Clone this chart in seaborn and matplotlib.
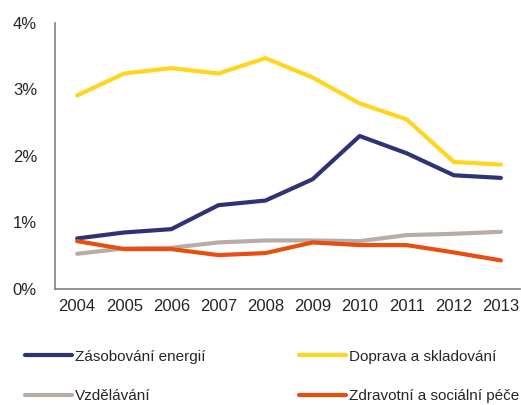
import numpy as np
import pandas as pd
import matplotlib
matplotlib.use('Agg')
import matplotlib.pyplot as plt
import seaborn as sns

years = [2004, 2005, 2006, 2007, 2008, 2009, 2010, 2011, 2012, 2013]
energie = [0.76, 0.85, 0.90, 1.26, 1.33, 1.65, 2.30, 2.04, 1.71, 1.67]
doprava = [2.91, 3.24, 3.32, 3.24, 3.47, 3.18, 2.79, 2.55, 1.91, 1.87]
vzdelavani = [0.53, 0.61, 0.62, 0.70, 0.73, 0.73, 0.72, 0.81, 0.83, 0.86]
zdravotni = [0.72, 0.60, 0.60, 0.51, 0.54, 0.70, 0.66, 0.66, 0.55, 0.43]

labels = ['Zásobování energií', 'Doprava a skladování',
          'Vzdělávání', 'Zdravotní a sociální péče']
colors = ['#2E3375', '#FFD51E', '#B8ADA6', '#E84E10']

df = pd.DataFrame({
    'year': [str(y) for y in years] * 4,
    'value': energie + doprava + vzdelavani + zdravotni,
    'series': np.repeat(labels, len(years)),
})

sns.set_style('white')
plt.rcParams['font.family'] = ['Liberation Sans', 'DejaVu Sans']

fig = plt.figure(figsize=(5.21, 4.05), dpi=100)
ax = fig.add_axes([0.1056, 0.2864, 0.892, 0.657])

sns.lineplot(data=df, x='year', y='value', hue='series', hue_order=labels,
             palette=colors, linewidth=3, ax=ax, sort=False)

ax.set_ylim(0, 4)
ax.set_xlim(-0.47, 9.4)
ax.set_yticks([0, 1, 2, 3, 4])
ax.set_yticklabels([f'{v}%' for v in range(5)])
ax.set_xlabel('')
ax.set_ylabel('')
ax.tick_params(axis='both', labelsize=12, length=0)
ax.tick_params(axis='x', pad=7)
ax.tick_params(axis='y', pad=13)

for side in ['top', 'right']:
    ax.spines[side].set_visible(False)
for side in ['left', 'bottom']:
    ax.spines[side].set_color('#808080')
    ax.spines[side].set_linewidth(1.2)

# legend fills column-wise, so reorder to get the reference's rows
handles, _ = ax.get_legend_handles_labels()
order = [0, 2, 1, 3]
ax.legend([handles[i] for i in order], [labels[i] for i in order], ncol=2,
          loc='upper left', bbox_to_anchor=(0.048, 0.137),
          bbox_transform=fig.transFigure, frameon=False, fontsize=11,
          handlelength=3.1, handletextpad=0.2, columnspacing=6.1,
          labelspacing=1.7, borderaxespad=0, borderpad=0)

fig.savefig('out.png', dpi=100)
